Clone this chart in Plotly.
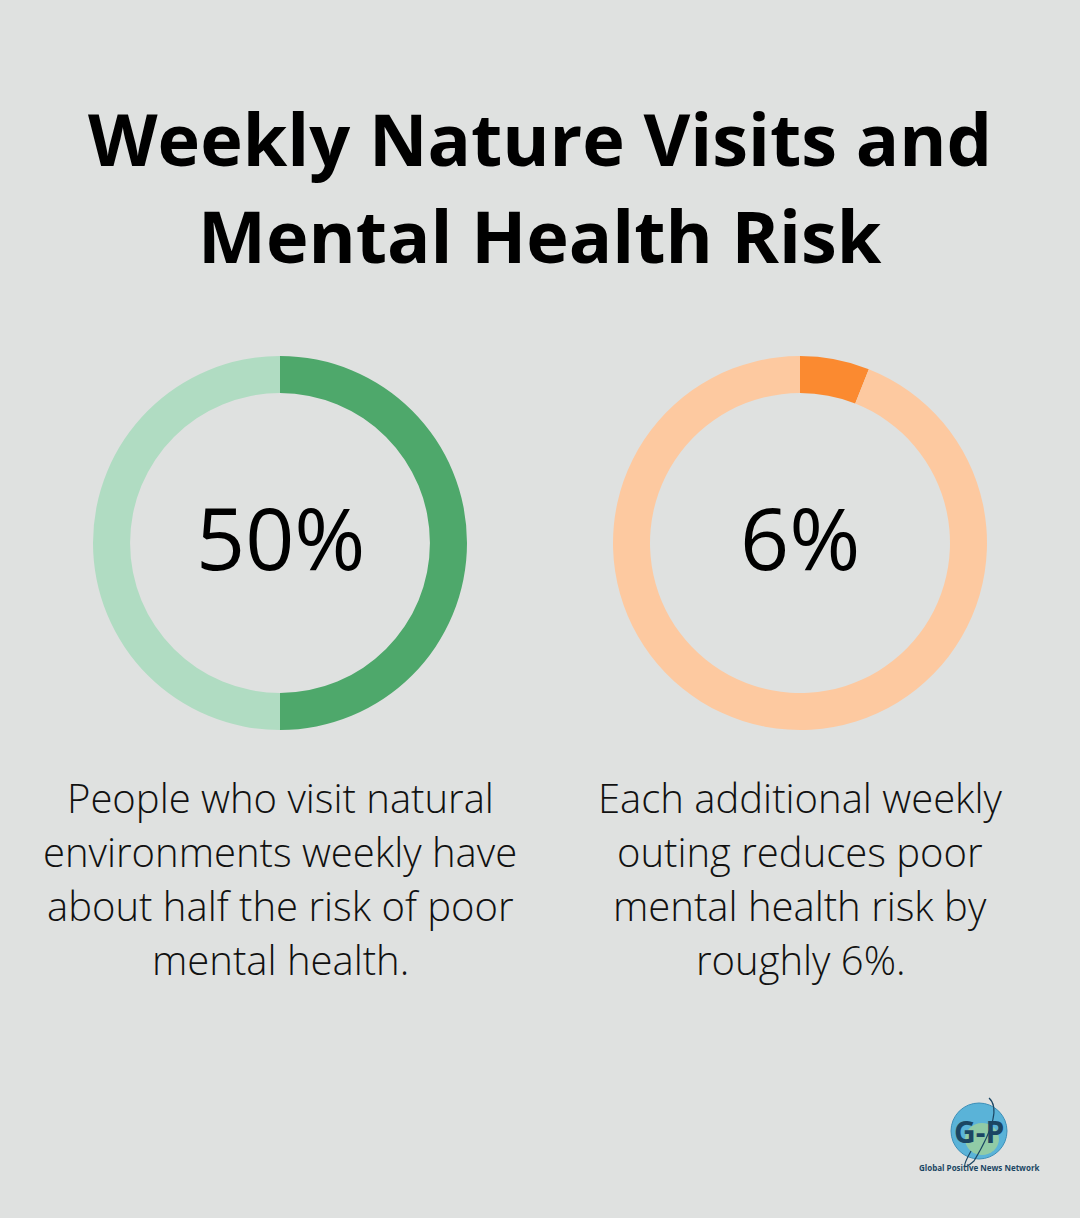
import plotly.graph_objects as go

W, H = 1080, 1218
BG = "#dfe1e0"

title_lines = ["Weekly Nature Visits and", "Mental Health Risk"]
percent_values = [50, 6]
percent_labels = ["50%", "6%"]
dark_colors = ["#4ea86b", "#fb8a30"]
light_colors = ["#b0dcc2", "#fdc9a0"]
descriptions = [
    ["People who visit natural", "environments weekly have", "about half the risk of poor", "mental health."],
    ["Each additional weekly", "outing reduces poor", "mental health risk by", "roughly 6%."],
]
logo_caption = "Global Positive News Network"

centers_x = [280, 800]
cy = 543
R = 187


def px(x):
    return x / W


def py(y):
    return 1 - y / H


fig = go.Figure()
for i, v in enumerate(percent_values):
    cx = centers_x[i]
    fig.add_trace(go.Pie(
        values=[v, 100 - v],
        marker=dict(colors=[dark_colors[i], light_colors[i]], line=dict(width=0)),
        hole=150 / 187,
        sort=False,
        direction="clockwise",
        rotation=0,
        textinfo="none",
        hoverinfo="skip",
        showlegend=False,
        domain=dict(x=[px(cx - R), px(cx + R)], y=[py(cy + R), py(cy - R)]),
    ))

annotations = []
for j, line in enumerate(title_lines):
    annotations.append(dict(
        text=line, x=0.5, y=py(138 + j * 97), xref="paper", yref="paper",
        xanchor="center", yanchor="middle", showarrow=False,
        font=dict(family="Open Sans", size=72, color="#000000", weight="bold"),
    ))
for i, lab in enumerate(percent_labels):
    annotations.append(dict(
        text=lab, x=px(centers_x[i]), y=py(536), xref="paper", yref="paper",
        xanchor="center", yanchor="middle", showarrow=False,
        font=dict(family="Open Sans", size=86, color="#000000", weight=500),
    ))
for i, lines in enumerate(descriptions):
    for j, line in enumerate(lines):
        annotations.append(dict(
            text=line, x=px(centers_x[i]), y=py(797 + j * 54), xref="paper", yref="paper",
            xanchor="center", yanchor="middle", showarrow=False,
            font=dict(family="Open Sans", size=40, color="#111111", weight=300),
        ))

# logo
lcx, lcy, lr = 979, 1131, 28
annotations.append(dict(
    text="G-P", x=px(lcx), y=py(1131), xref="paper", yref="paper",
    xanchor="center", yanchor="middle", showarrow=False,
    font=dict(family="Open Sans", size=30, color="#1b4663", weight="bold"),
))
annotations.append(dict(
    text=logo_caption, x=px(lcx), y=py(1167), xref="paper", yref="paper",
    xanchor="center", yanchor="middle", showarrow=False,
    font=dict(family="Open Sans", size=8, color="#1b4663", weight="bold"),
))

shapes = [
    dict(type="circle", xref="paper", yref="paper",
         x0=px(lcx - lr), x1=px(lcx + lr), y0=py(lcy + lr), y1=py(lcy - lr),
         fillcolor="#5ab3d8", line=dict(color="#3d8fb8", width=1), layer="below"),
    dict(type="circle", xref="paper", yref="paper",
         x0=px(lcx - 14), x1=px(lcx + 20), y0=py(lcy + 24), y1=py(lcy - 8),
         fillcolor="#9fd19a", line=dict(width=0), layer="below", opacity=0.8),
    dict(type="path", xref="paper", yref="paper",
         path=f"M {px(lcx+10)},{py(lcy-33)} Q {px(lcx+25)},{py(lcy-20)} {px(lcx-5)},{py(lcy+30)} "
              f"Q {px(lcx-22)},{py(lcy+45)} {px(lcx-8)},{py(lcy+20)}",
         line=dict(color="#1b4663", width=1.2)),
]

fig.update_layout(
    width=W, height=H,
    margin=dict(l=0, r=0, t=0, b=0),
    paper_bgcolor=BG, plot_bgcolor=BG,
    annotations=annotations, shapes=shapes,
)

fig.write_html("out.html")
